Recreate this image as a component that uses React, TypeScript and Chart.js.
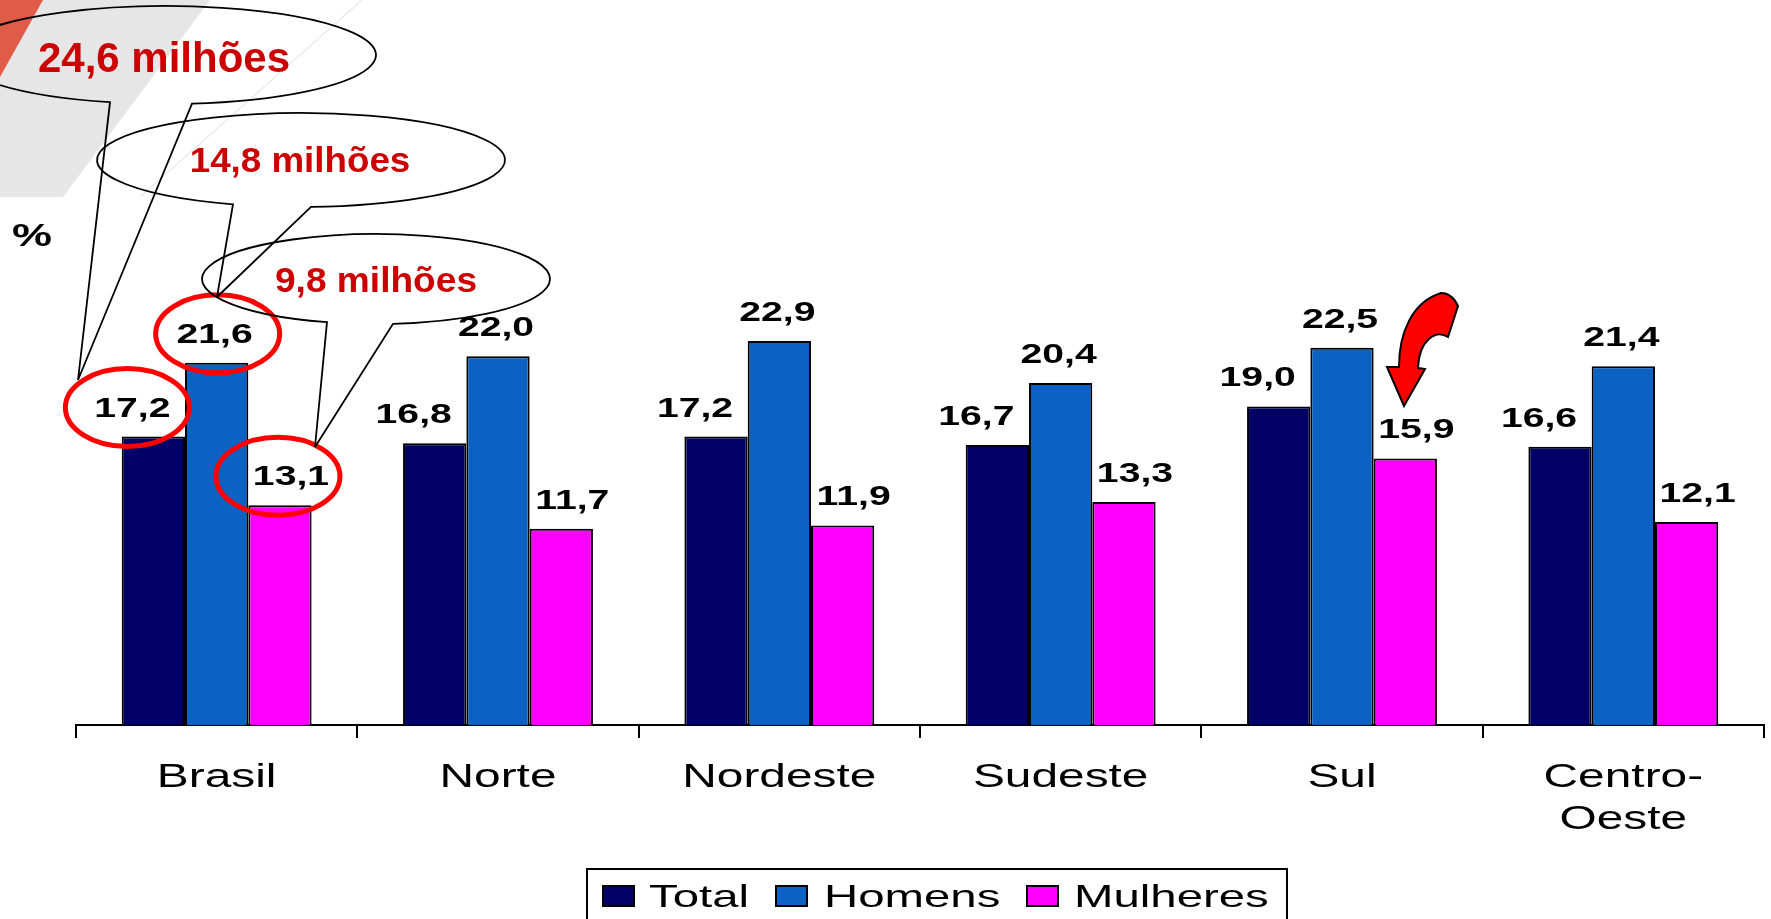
import React, { useEffect, useRef } from "react";
import { Chart, registerables } from "chart.js";

Chart.register(...registerables);

const categories = ["Brasil", "Norte", "Nordeste", "Sudeste", "Sul", "Centro-Oeste"];
const seriesNames = ["Total", "Homens", "Mulheres"];
const totalValues = [17.2, 16.8, 17.2, 16.7, 19.0, 16.6];
const homensValues = [21.6, 22.0, 22.9, 20.4, 22.5, 21.4];
const mulheresValues = [13.1, 11.7, 11.9, 13.3, 15.9, 12.1];
const seriesColors = ["#000066", "#0C62C2", "#FF00FF"];
const calloutTexts = ["24,6 milhões", "14,8 milhões", "9,8 milhões"];
const yUnit = "%";

const W = 1771;
const H = 919;
const SX = 1.45; // horizontal stretch of the black labels
const LABEL_FONT = "'Liberation Sans', Arial, sans-serif";

function stretchText(
  ctx: CanvasRenderingContext2D,
  text: string,
  x: number,
  y: number,
  font: string,
  sx: number,
  align: CanvasTextAlign,
  color: string
) {
  ctx.save();
  ctx.font = font;
  ctx.fillStyle = color;
  ctx.textAlign = align;
  ctx.textBaseline = "alphabetic";
  ctx.translate(x, y);
  ctx.scale(sx, 1);
  ctx.fillText(text, 0, 0);
  ctx.restore();
}

function fmt(v: number) {
  return v.toFixed(1).replace(".", ",");
}

const decorPlugin = {
  id: "decor",
  beforeDraw(chart: any) {
    const ctx: CanvasRenderingContext2D = chart.ctx;
    ctx.save();
    ctx.fillStyle = "#ffffff";
    ctx.fillRect(0, 0, W, H);
    // grey band
    ctx.fillStyle = "#e6e6e6";
    ctx.beginPath();
    ctx.moveTo(0, 0);
    ctx.lineTo(210, 0);
    ctx.lineTo(63, 197);
    ctx.lineTo(0, 197);
    ctx.closePath();
    ctx.fill();
    // red corner
    ctx.fillStyle = "#E05C48";
    ctx.beginPath();
    ctx.moveTo(0, 0);
    ctx.lineTo(43, 0);
    ctx.lineTo(0, 77);
    ctx.closePath();
    ctx.fill();
    // faint line
    ctx.strokeStyle = "#ececec";
    ctx.lineWidth = 1.5;
    ctx.beginPath();
    ctx.moveTo(362, 0);
    ctx.lineTo(140, 197);
    ctx.stroke();
    ctx.restore();
  },
  afterDraw(chart: any) {
    const ctx: CanvasRenderingContext2D = chart.ctx;
    const xScale = chart.scales.x;
    const labelDx = [-21, -2, 11];
    const circleDx = [-26, 1, -2];

    // data labels
    chart.data.datasets.forEach((ds: any, i: number) => {
      const meta = chart.getDatasetMeta(i);
      meta.data.forEach((el: any, j: number) => {
        stretchText(
          ctx,
          fmt(ds.data[j]),
          el.x + labelDx[i],
          el.y - 20,
          `bold 27px ${LABEL_FONT}`,
          SX,
          "center",
          "#000"
        );
      });
    });

    // category labels
    categories.forEach((c, i) => {
      const x = xScale.getPixelForValue(i);
      const lines = c.includes("-") ? [c.split("-")[0] + "-", c.split("-")[1]] : [c];
      lines.forEach((ln, k) => {
        stretchText(ctx, ln, x, 787 + k * 42, `33px ${LABEL_FONT}`, SX, "center", "#000");
      });
    });

    // % unit
    stretchText(ctx, yUnit, 12, 246, `bold 31px ${LABEL_FONT}`, SX, "left", "#000");

    // legend
    ctx.save();
    ctx.strokeStyle = "#000";
    ctx.lineWidth = 2;
    ctx.strokeRect(587, 869, 700, 70);
    const sqX = [603, 776, 1027];
    const txX = [649, 824, 1074];
    chart.data.datasets.forEach((ds: any, i: number) => {
      ctx.fillStyle = ds.backgroundColor;
      ctx.fillRect(sqX[i], 886, 31, 20);
      ctx.strokeRect(sqX[i], 886, 31, 20);
      stretchText(ctx, ds.label, txX[i], 907, `32px ${LABEL_FONT}`, 1.48, "left", "#000");
    });
    ctx.restore();

    // red circles around Brasil labels
    ctx.save();
    ctx.strokeStyle = "#FF0000";
    ctx.lineWidth = 5;
    chart.data.datasets.forEach((ds: any, i: number) => {
      const el = chart.getDatasetMeta(i).data[0];
      ctx.beginPath();
      ctx.ellipse(el.x + circleDx[i], el.y - 29, 62, 39, 0, 0, Math.PI * 2);
      ctx.stroke();
    });
    ctx.restore();

    // callouts
    const callouts = [
      { cx: 166, cy: 55, rx: 210, ry: 49, bl: 110, br: 192, tip: [78, 380], tx: 164, ty: 72, font: 42, sx: 1.0 },
      { cx: 301, cy: 160, rx: 204, ry: 47, bl: 233, br: 311, tip: [217, 297], tx: 300, ty: 172, font: 35, sx: 1.05 },
      { cx: 376, cy: 279, rx: 174, ry: 45, bl: 327, br: 393, tip: [315, 447], tx: 376, ty: 292, font: 35, sx: 1.06 },
    ];
    ctx.save();
    ctx.strokeStyle = "#000";
    ctx.lineWidth = 1.8;
    callouts.forEach((c, i) => {
      const aL = Math.acos((c.bl - c.cx) / c.rx);
      const aR = Math.acos((c.br - c.cx) / c.rx);
      ctx.beginPath();
      ctx.moveTo(c.tip[0], c.tip[1]);
      ctx.lineTo(c.cx + c.rx * Math.cos(aL), c.cy + c.ry * Math.sin(aL));
      ctx.ellipse(c.cx, c.cy, c.rx, c.ry, 0, aL, aR, false);
      ctx.lineTo(c.tip[0], c.tip[1]);
      ctx.stroke();
      stretchText(ctx, calloutTexts[i], c.tx, c.ty, `bold ${c.font}px ${LABEL_FONT}`, c.sx, "center", "#CC0000");
    });
    ctx.restore();

    // curved red arrow near Sul
    ctx.save();
    ctx.fillStyle = "#FF0000";
    ctx.strokeStyle = "#000";
    ctx.lineWidth = 2;
    ctx.beginPath();
    ctx.moveTo(1404, 406);
    ctx.lineTo(1387, 367);
    ctx.lineTo(1399, 367);
    ctx.bezierCurveTo(1399, 333, 1412, 302, 1441, 293);
    ctx.quadraticCurveTo(1452, 293, 1458, 306);
    ctx.lineTo(1448, 337);
    ctx.bezierCurveTo(1436, 329, 1419, 340, 1418, 368);
    ctx.lineTo(1425, 369);
    ctx.closePath();
    ctx.fill();
    ctx.stroke();
    ctx.restore();
  },
};

export default function App() {
  const ref = useRef<HTMLCanvasElement>(null);
  useEffect(() => {
    if (!ref.current) return;
    const seriesValues = [totalValues, homensValues, mulheresValues];
    const chart = new Chart(ref.current, {
      type: "bar",
      data: {
        labels: categories,
        datasets: seriesNames.map((name, i) => ({
          label: name,
          data: seriesValues[i],
          backgroundColor: seriesColors[i],
          borderColor: "#000",
          borderWidth: 2,
          categoryPercentage: 0.675,
          barPercentage: 1.0,
        })),
      },
      options: {
        responsive: false,
        animation: false,
        devicePixelRatio: 1,
        layout: { padding: { left: 76, right: 7, top: 222, bottom: 0 } },
        plugins: { legend: { display: false }, tooltip: { enabled: false } },
        scales: {
          x: {
            grid: {
              display: true,
              offset: true,
              drawOnChartArea: false,
              drawTicks: true,
              tickLength: 13,
              color: "#000",
              lineWidth: 2,
            },
            border: { display: true, color: "#000", width: 2 },
            ticks: { display: false },
            afterFit: (s: any) => {
              s.height = H - 725;
            },
          },
          y: { display: false, min: 0, max: 30 },
        },
      },
      plugins: [decorPlugin],
    });
    return () => chart.destroy();
  }, []);
  return (
    <div style={{ position: "fixed", left: 0, top: 0, width: W, height: H, background: "#fff" }}>
      <canvas ref={ref} width={W} height={H} style={{ display: "block" }} />
    </div>
  );
}
